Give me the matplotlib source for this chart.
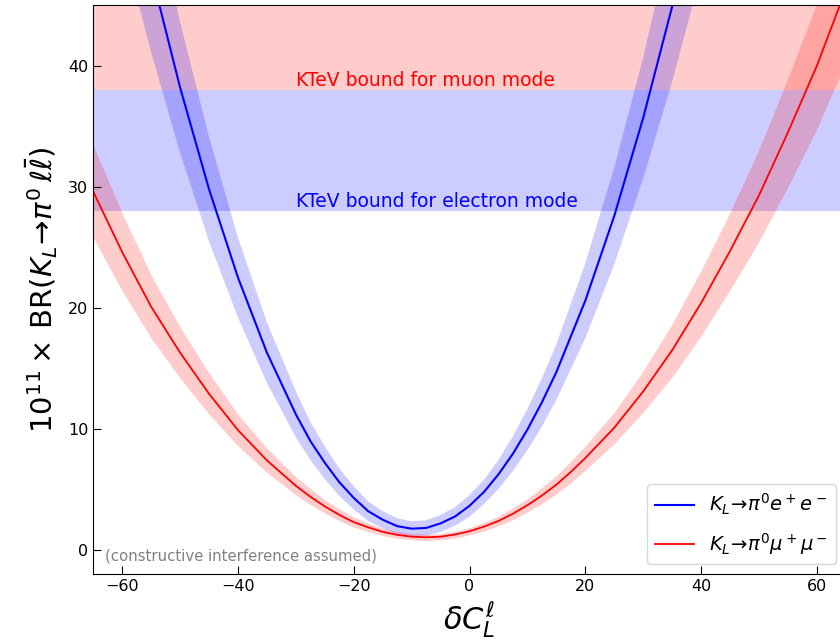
import matplotlib
matplotlib.use("Agg")
import matplotlib.pyplot as plt
import numpy as np

# values
x_ee = [-60, -55, -50, -45, -40, -35, -30, -27.5, -25, -22.5, -20, -17.5, -15, -12.5, -10, -7.5, -5,
        -2.5, 0, 2.5, 5, 7.5, 10, 12.5, 15, 20, 25, 30, 35, 40]
br_ee = [58.3, 47.7, 38.2, 29.8, 22.5, 16.3, 11.2, 9.0, 7.2, 5.6, 4.3, 3.2, 2.5, 1.97, 1.76, 1.82, 2.2,
         2.77, 3.65, 4.8, 6.25, 7.96, 9.95, 12.2, 14.7, 20.6, 27.6, 35.7, 44.9, 55.2]
err_ee = [8.0, 6.6, 5.4, 4.3, 3.3, 2.5, 1.9, 1.57, 1.35, 1.13, 0.95, 0.8, 0.7, 0.65, 0.6, 0.64, 0.7,
          0.76, 0.9, 1.0, 1.2, 1.43, 1.7, 2.0, 2.3, 3.1, 4.0, 5.0, 6.2, 7.6]

x_mm = [-65, -60, -55, -50, -45, -40, -35, -30, -27.5, -25, -22.5, -20, -17.5, -15, -12.5, -10, -7.5, -5,
        -2.5, 0, 2.5, 5, 7.5, 10, 12.5, 15, 17.5, 20, 25, 30, 35, 40, 45, 50, 55, 60, 65]
br_mm = [29.6, 24.6, 20.1, 16.3, 12.9, 9.9, 7.4, 5.3, 4.4, 3.6, 2.9, 2.3, 1.87, 1.5, 1.25, 1.1, 1.05, 1.1,
         1.28, 1.55, 1.93, 2.4, 3.0, 3.7, 4.5, 5.4, 6.45, 7.6, 10.1, 13.1, 16.5, 20.4, 24.7, 29.3, 34.5, 40.0, 46.3]
err_mm = [3.8, 3.2, 2.6, 2.1, 1.7, 1.3, 1.0, 0.75, 0.66, 0.55, 0.48, 0.4, 0.35, 0.3, 0.28, 0.26, 0.26, 0.26,
          0.28, 0.3, 0.36, 0.4, 0.49, 0.55, 0.67, 0.75, 0.9, 1.0, 1.3, 1.7, 2.2, 2.7, 3.2, 3.8, 4.5, 5.2, 6.0]

ktev_ee = [28, 38]   # electron mode bound band
ktev_mm = [38, 60]   # muon mode bound band

x_ee, br_ee, err_ee = np.array(x_ee), np.array(br_ee), np.array(err_ee)
x_mm, br_mm, err_mm = np.array(x_mm), np.array(br_mm), np.array(err_mm)

fig = plt.figure(figsize=(8.4, 6.43), dpi=100)
ax = fig.add_axes([0.111, 0.107, 0.896, 0.885])

ax.axhspan(ktev_mm[0], ktev_mm[1], color='red', alpha=0.2, lw=0)
ax.axhspan(ktev_ee[0], ktev_ee[1], color='blue', alpha=0.2, lw=0)
ax.text(-30, 38.3, 'KTeV bound for muon mode', color='red', fontsize=13.5)
ax.text(-30, 28.3, 'KTeV bound for electron mode', color='blue', fontsize=13.5)

ax.fill_between(x_ee, br_ee - err_ee, br_ee + err_ee, color='blue', alpha=0.2, lw=0)
ax.plot(x_ee, br_ee, color='blue', lw=1.5, label=r'$K_L\!\to\!\pi^0e^+e^-$')
ax.fill_between(x_mm, br_mm - err_mm, br_mm + err_mm, color='red', alpha=0.2, lw=0)
ax.plot(x_mm, br_mm, color='red', lw=1.3, label=r'$K_L\!\to\!\pi^0\mu^+\mu^-$')

ax.text(-62.9, -0.5, '(constructive interference assumed)', color='gray', fontsize=10.7, va='center')

ax.set_xlim(-65, 65)
ax.set_ylim(-2, 45)
ax.set_xticks([-60, -40, -20, 0, 20, 40, 60])
ax.set_yticks([0, 10, 20, 30, 40])
ax.tick_params(direction='in', length=6, labelsize=11.5)
ax.spines['right'].set_visible(False)
ax.set_xlabel(r'$\delta C_L^{\ell}$', fontsize=22)
ax.set_ylabel(r'$10^{11}\times\,\mathrm{BR}(K_L\!\to\!\pi^0\,\ell\bar{\ell})$', fontsize=21, labelpad=6)
ax.legend(loc='lower right', fontsize=14, handlelength=2.0, labelspacing=0.7)

plt.savefig("out.png")
